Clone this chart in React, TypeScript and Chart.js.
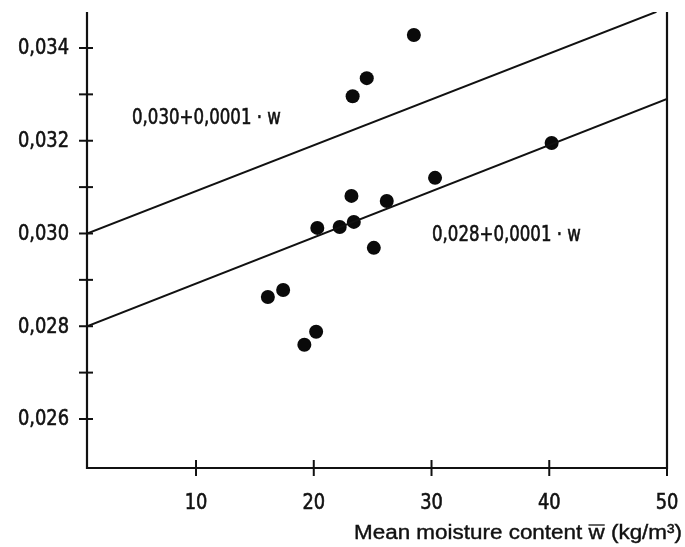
import React, { useEffect, useRef } from "react";
import { Chart, registerables } from "chart.js";

Chart.register(...registerables);

// Measured points: mean moisture content (kg/m³) vs. thermal conductivity
const moisture = [28.5, 24.5, 23.3, 40.2, 30.3, 23.2, 26.2, 20.3, 22.2, 23.4, 25.1, 16.1, 17.4, 20.2, 19.2];
const conductivity = [0.03428, 0.03335, 0.03296, 0.03195, 0.0312, 0.03081, 0.0307, 0.03012, 0.03014, 0.03025, 0.02969, 0.02863, 0.02878, 0.02788, 0.0276];

// Reference lines (end points)
const upperLineX = [0.74, 49.1];
const upperLineY = [0.03, 0.03478];
const lowerLineX = [0.74, 50];
const lowerLineY = [0.028, 0.0329];

const upperLabel = "0,030+0,0001 · w";
const lowerLabel = "0,028+0,0001 · w";

const xTicks = [10, 20, 30, 40, 50];
const xTickLabels = ["10", "20", "30", "40", "50"];
const yMajorTicks = [0.026, 0.028, 0.03, 0.032, 0.034];
const yMajorLabels = ["0,026", "0,028", "0,030", "0,032", "0,034"];
const yMinorTicks = [0.027, 0.029, 0.031, 0.033];

const X_MIN = 0.74;
const X_MAX = 50;
const Y_MIN = 0.024943;
const Y_MAX = 0.034776;

const TICK_FONT = '21px "DejaVu Sans", sans-serif';
const TICK_SX = 0.85;
const LABEL_SX = 0.79;
const TITLE_FONT = '20px "Liberation Sans", Arial, sans-serif';
const INK = "#111";

function drawText(ctx: any, text: string, x: number, y: number, align: string, sx: number) {
  const w = ctx.measureText(text).width * sx;
  let left = x;
  if (align === "right") left = x - w;
  else if (align === "center") left = x - w / 2;
  ctx.save();
  ctx.translate(left, y);
  ctx.scale(sx, 1);
  ctx.textAlign = "left";
  ctx.lineWidth = 0.6;
  ctx.strokeText(text, 0, 0);
  ctx.fillText(text, 0, 0);
  ctx.restore();
}

const axesPlugin = {
  id: "handAxes",
  afterDraw(chart: any) {
    const { ctx, chartArea } = chart;
    const xs = chart.scales.x;
    const ys = chart.scales.y;
    const { left, right, top, bottom } = chartArea;
    ctx.save();
    ctx.strokeStyle = INK;
    ctx.fillStyle = INK;
    ctx.lineWidth = 2.2;
    ctx.lineCap = "butt";
    // axes frame: left, bottom, right
    ctx.beginPath();
    ctx.moveTo(left, top);
    ctx.lineTo(left, bottom);
    ctx.lineTo(right, bottom);
    ctx.lineTo(right, top);
    ctx.stroke();

    // y ticks (crossing the axis)
    ctx.lineWidth = 2;
    [...yMajorTicks, ...yMinorTicks].forEach((v) => {
      const py = ys.getPixelForValue(v);
      ctx.beginPath();
      ctx.moveTo(left - 8, py);
      ctx.lineTo(left + 6, py);
      ctx.stroke();
    });
    // x ticks
    xTicks.forEach((v) => {
      const px = xs.getPixelForValue(v);
      ctx.beginPath();
      ctx.moveTo(px, bottom - 8);
      ctx.lineTo(px, bottom + 8);
      ctx.stroke();
    });

    // tick labels
    ctx.font = TICK_FONT;
    ctx.textBaseline = "middle";
    yMajorTicks.forEach((v, i) => {
      drawText(ctx, yMajorLabels[i], left - 18, ys.getPixelForValue(v) + 1, "right", TICK_SX);
    });
    xTicks.forEach((v, i) => {
      drawText(ctx, xTickLabels[i], xs.getPixelForValue(v), bottom + 36, "center", TICK_SX);
    });

    // line labels
    drawText(ctx, upperLabel, 132, 119, "left", LABEL_SX);
    drawText(ctx, lowerLabel, 432, 236, "left", LABEL_SX);

    // axis title with overlined w
    ctx.font = TITLE_FONT;
    ctx.textBaseline = "alphabetic";
    const p1 = "Mean moisture content ";
    const p2 = "w";
    const p3 = " (kg/m³)";
    const w1 = ctx.measureText(p1).width;
    const w2 = ctx.measureText(p2).width;
    const w3 = ctx.measureText(p3).width;
    const startX = 354;
    const endX = 682;
    const sx = (endX - startX) / (w1 + w2 + w3);
    const baseY = 539;
    ctx.save();
    ctx.translate(startX, baseY);
    ctx.scale(sx, 1);
    ctx.textAlign = "left";
    ctx.lineWidth = 0.4;
    ctx.strokeText(p1, 0, 0);
    ctx.fillText(p1, 0, 0);
    ctx.strokeText(p2, w1, 0);
    ctx.fillText(p2, w1, 0);
    ctx.strokeText(p3, w1 + w2, 0);
    ctx.fillText(p3, w1 + w2, 0);
    ctx.lineWidth = 1.3;
    ctx.beginPath();
    ctx.moveTo(w1, -14);
    ctx.lineTo(w1 + w2, -14);
    ctx.stroke();
    ctx.restore();
    ctx.restore();
  },
};

export default function App() {
  const canvasRef = useRef<HTMLCanvasElement | null>(null);

  useEffect(() => {
    document.body.style.margin = "0";
    const canvas = canvasRef.current;
    if (!canvas) return;
    const points = moisture.map((m, i) => ({ x: m, y: conductivity[i] }));
    const upper = upperLineX.map((x, i) => ({ x, y: upperLineY[i] }));
    const lower = lowerLineX.map((x, i) => ({ x, y: lowerLineY[i] }));
    const chart = new Chart(canvas, {
      type: "scatter",
      data: {
        datasets: [
          {
            type: "line",
            label: upperLabel,
            data: upper,
            borderColor: INK,
            borderWidth: 2,
            pointRadius: 0,
            fill: false,
          },
          {
            type: "line",
            label: lowerLabel,
            data: lower,
            borderColor: INK,
            borderWidth: 2,
            pointRadius: 0,
            fill: false,
          },
          {
            label: "Measurements",
            data: points,
            pointRadius: 7,
            pointHoverRadius: 7,
            backgroundColor: "#0a0a0a",
            borderColor: "#0a0a0a",
            borderWidth: 0,
          },
        ],
      },
      options: {
        animation: false,
        responsive: false,
        events: [],
        layout: { padding: { left: 87, right: 18, top: 12, bottom: 79 } },
        plugins: { legend: { display: false }, tooltip: { enabled: false } },
        scales: {
          x: { type: "linear", min: X_MIN, max: X_MAX, display: false },
          y: { type: "linear", min: Y_MIN, max: Y_MAX, display: false },
        },
      },
      plugins: [axesPlugin],
    });
    return () => chart.destroy();
  }, []);

  return (
    <div style={{ width: 685, height: 547, background: "#fff" }}>
      <canvas ref={canvasRef} width={685} height={547} style={{ display: "block" }} />
    </div>
  );
}
